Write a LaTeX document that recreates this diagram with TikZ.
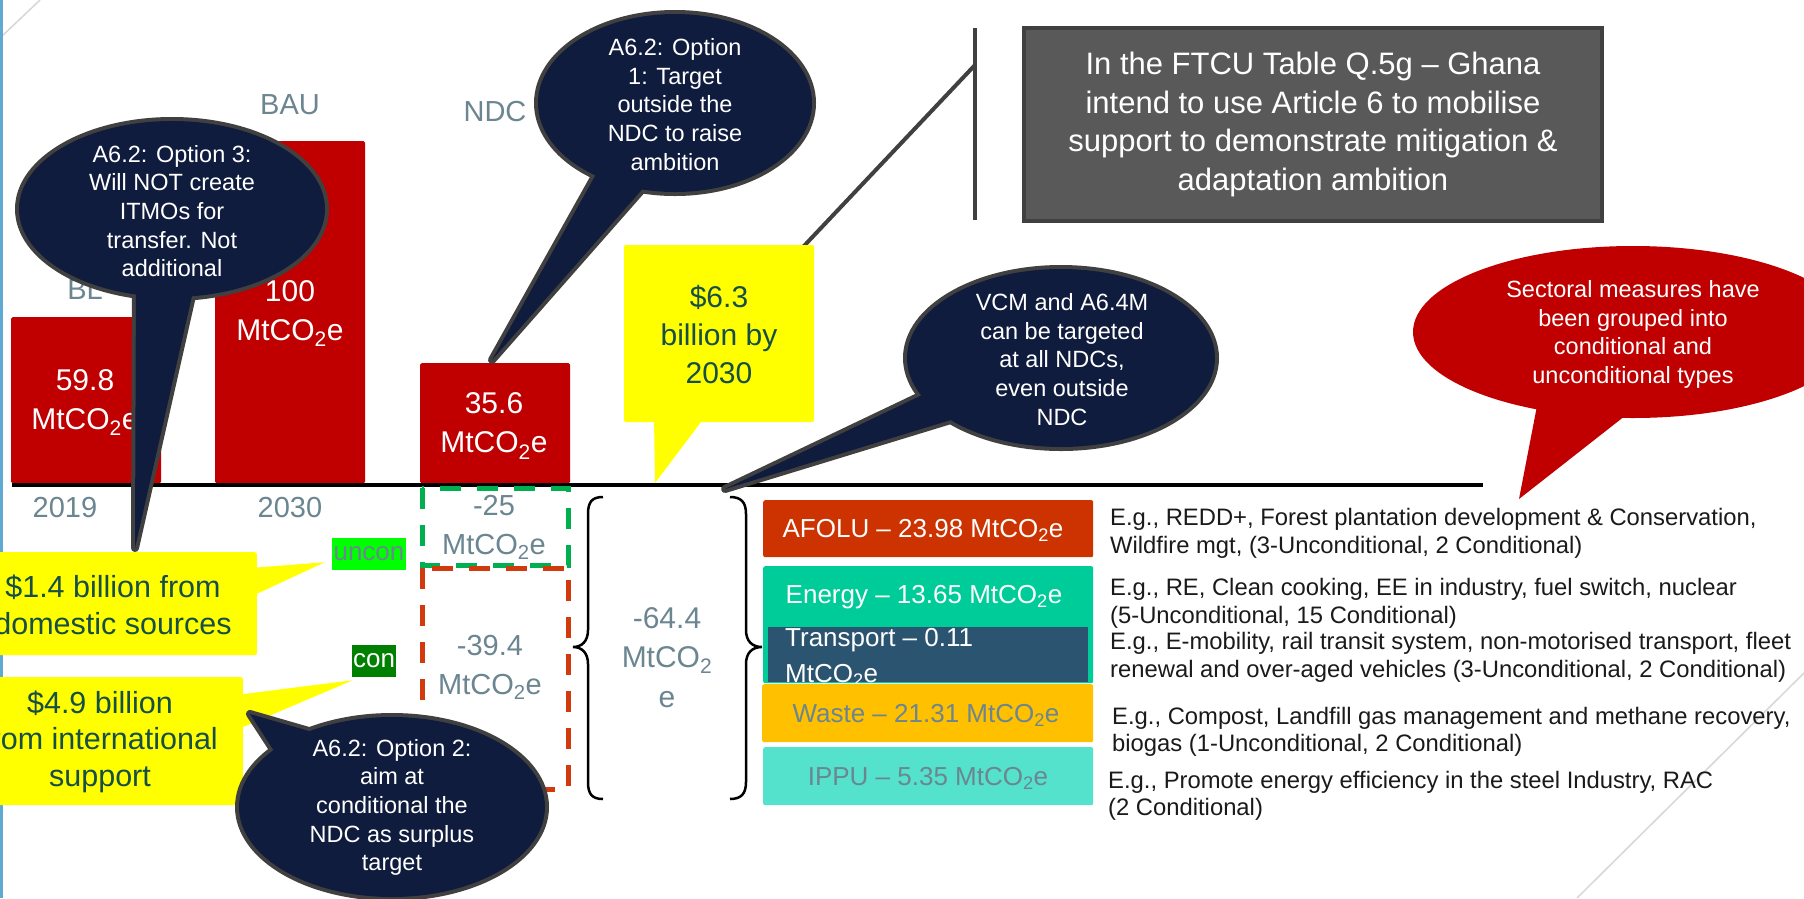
\documentclass[tikz,border=0pt]{standalone}
\usepackage{fontspec}
\setmainfont{Liberation Sans}
\newcommand{\myfs}[2]{\fontsize{#1}{#2}\selectfont}
\definecolor{navy}{RGB}{16,28,61}
\definecolor{bubborder}{RGB}{64,64,64}
\definecolor{barred}{RGB}{192,0,0}
\definecolor{labgray}{RGB}{107,134,145}
\definecolor{ytext}{RGB}{22,78,72}
\definecolor{yel}{RGB}{255,255,0}
\definecolor{dgreen}{RGB}{0,176,80}
\definecolor{dred}{RGB}{208,58,12}
\definecolor{afolu}{RGB}{204,51,0}
\definecolor{energy}{RGB}{0,204,153}
\definecolor{transp}{RGB}{43,84,112}
\definecolor{waste}{RGB}{255,192,0}
\definecolor{ippu}{RGB}{85,226,205}
\definecolor{greybox}{RGB}{89,89,89}
\definecolor{desctext}{RGB}{26,26,26}
\definecolor{lightline}{RGB}{215,215,215}
\definecolor{edgeblue}{RGB}{95,170,210}
\definecolor{brightgreen}{RGB}{0,255,0}
\definecolor{congreen}{RGB}{0,128,0}
\begin{document}
\begin{tikzpicture}[x=1pt,y=-1pt,
  lbl/.style={text=labgray, font=\myfs{29}{39}, align=center, inner sep=0pt},
  bartxt/.style={text=white, font=\myfs{30}{39}, align=center, inner sep=0pt},
  barbox/.style={fill=barred, rounded corners=1.5pt, anchor=north west, inner sep=0pt, minimum width=150pt},
  bubtxt/.style={text=white, font=\myfs{23.5}{28.6}, align=center, inner sep=0pt},
  bubedge/.style={draw=bubborder, line width=8pt, line join=round},
  sectbox/.style={anchor=north west, rounded corners=2pt, inner sep=0pt, minimum width=330pt},
  secttxt/.style={font=\myfs{26}{34}, inner sep=0pt},
  desc/.style={anchor=west, align=left, text=desctext, font=\myfs{23.8}{27.5}, inner sep=0pt},
  ytxt/.style={text=ytext, font=\myfs{30.5}{36.5}, align=center, inner sep=0pt},
  ybox/.style={fill=yel, rounded corners=2pt, inner sep=0pt},
  accent/.style={draw=bubborder, line width=4pt},
  tag/.style={inner sep=0pt, font=\myfs{26}{30}, minimum height=32pt}
]
\useasboundingbox (0,0) rectangle (1804,898);
\clip (0,0) rectangle (1804,898);
\fill[white] (0,0) rectangle (1804,898);

% slide decorations
\draw[line width=1.5pt, lightline] (0,38) -- (40,0);
\draw[line width=1.5pt, lightline] (1804,673) -- (1577,898);
\fill[edgeblue] (0,0) rectangle (2.5,898);

% category labels
\node[lbl] (lBL) at (85,290) {BL};
\node[lbl] (lBAU) at (290,105) {BAU};
\node[lbl] (lNDC) at (495,112) {NDC};
\node[lbl] (l2019) at (65,508) {2019};
\node[lbl] (l2030) at (290,508) {2030};

% bars
\node[barbox, minimum height=166pt] (bar1) at (11,317) {};
\node[barbox, minimum height=342pt] (bar2) at (215,141) {};
\node[barbox, minimum height=120pt] (bar3) at (420,363) {};
\node[bartxt] (v1) at (85,402.5) {59.8\\MtCO\textsubscript{2}e};
\node[bartxt] (v2) at (290,313.5) {100\\MtCO\textsubscript{2}e};
\node[bartxt] (v3) at (494,426) {35.6\\MtCO\textsubscript{2}e};

% axis
\coordinate (axL) at (12,485);
\coordinate (axR) at (1483,485);
\draw[line width=4pt] (axL) -- (axR);

% dashed boxes
\draw[dgreen, line width=5pt, dash pattern=on 21pt off 16pt] (422,488) rectangle (568,565);
\draw[dred, line width=5pt, dash pattern=on 21pt off 16pt] (422,568) rectangle (568,789);
\node[lbl] (m25) at (494,527.5) {-25\\MtCO\textsubscript{2}e};
\node[lbl] (m39) at (490,667.5) {-39.4\\MtCO\textsubscript{2}e};

% braces
\draw[line width=2.5pt] (603,497) .. controls (592,497) and (588,502) .. (588,514) -- (588,630) .. controls (588,641) and (582,647) .. (573,647) .. controls (582,647) and (588,653) .. (588,664) -- (588,782) .. controls (588,794) and (592,799) .. (603,799);
\draw[line width=2.5pt] (730,497) .. controls (741,497) and (746,502) .. (746,514) -- (746,630) .. controls (746,641) and (752,647) .. (762,647) .. controls (752,647) and (746,653) .. (746,664) -- (746,782) .. controls (746,794) and (741,799) .. (730,799);
\node[lbl, font=\myfs{30}{39.5}] (m64) at (667,657.5) {-64.4\\MtCO\textsubscript{2}\\e};

% sector boxes
\node[sectbox, fill=afolu, minimum height=57pt] (afolu) at (763,500) {};
\node[secttxt, text=white] (afoluT) at (923,530) {AFOLU -- 23.98 MtCO\textsubscript{2}e};
\node[sectbox, fill=energy, minimum height=117pt] (energy) at (763,566) {};
\node[secttxt, text=white] (energyT) at (924,597) {Energy -- 13.65 MtCO\textsubscript{2}e};
\node[sectbox, fill=transp, rounded corners=0pt, minimum width=320pt, minimum height=55pt] (trans) at (768,627) {};
\begin{scope}
\clip (768,627) rectangle (1088,682);
\node[secttxt, text=white, anchor=west] (transT1) at (785,640) {Transport -- 0.11};
\node[secttxt, text=white, anchor=west] (transT2) at (785,675) {MtCO\textsubscript{2}e};
\end{scope}
\node[sectbox, fill=waste, minimum width=331pt, minimum height=58pt] (waste) at (762,684) {};
\node[secttxt, text=labgray] (wasteT) at (926,715) {Waste -- 21.31 MtCO\textsubscript{2}e};
\node[sectbox, fill=ippu, minimum height=58pt] (ippu) at (763,747) {};
\node[secttxt, text=labgray] (ippuT) at (928,778) {IPPU -- 5.35 MtCO\textsubscript{2}e};

% descriptions
\node[desc] (dA) at (1110,533.5) {E.g., REDD+, Forest plantation development \& Conservation,\\Wildfire mgt, (3-Unconditional, 2 Conditional)};
\node[desc] (dE) at (1110,603.5) {E.g., RE, Clean cooking, EE in industry, fuel switch, nuclear\\(5-Unconditional, 15 Conditional)};
\node[desc] (dT) at (1110,657.5) {E.g., E-mobility, rail transit system, non-motorised transport, fleet\\renewal and over-aged vehicles (3-Unconditional, 2 Conditional)};
\node[desc] (dW) at (1112,732) {E.g., Compost, Landfill gas management and methane recovery,\\biogas (1-Unconditional, 2 Conditional)};
\node[desc] (dI) at (1108,796) {E.g., Promote energy efficiency in the steel Industry, RAC\\(2 Conditional)};

% grey box with accent line callout
\node[fill=greybox, draw=bubborder, line width=4pt, minimum width=578pt, minimum height=193pt, inner sep=0pt, text=white, font=\myfs{31}{38.5}, align=center] (gbox) at (1313,124.5) {In the FTCU Table Q.5g -- Ghana\\intend to use Article 6 to mobilise\\support to demonstrate mitigation \&\\adaptation ambition};
\coordinate (acc1) at (975,28);
\coordinate (acc2) at (975,220);
\coordinate (accm) at (975,65);
\coordinate (y63ne) at (803,247);
\draw[accent] (acc1) -- (acc2);
\draw[accent] (y63ne) -- (accm);
\node[ybox, minimum width=190pt, minimum height=177pt] (y63) at (719,333.5) {};
\node[ytxt, font=\myfs{30}{38}] (y63T) at (719,335) {\$6.3\\billion by\\2030};
\coordinate (t63) at (655,483);
\fill[yel] (654,418) -- (t63) -- (704,418) -- cycle;

% Option 1 bubble
\coordinate (c1) at (675,103);
\coordinate (tip1) at (492,360);
\draw[bubedge] (c1) ellipse [x radius=137pt, y radius=89pt];
\draw[bubedge] (604,160) -- (tip1) -- (668,160) -- cycle;
\fill[navy] (c1) ellipse [x radius=137pt, y radius=89pt];
\fill[navy] (604,160) -- (tip1) -- (668,160) -- cycle;
\node[bubtxt] (b1) at (675,104.5) {A6.2: Option\\1: Target\\outside the\\NDC to raise\\ambition};

% VCM bubble
\coordinate (cV) at (1061,358);
\coordinate (tipV) at (725,489);
\draw[bubedge] (cV) ellipse [x radius=154pt, y radius=89pt];
\draw[bubedge] (960,377) -- (tipV) -- (990,408) -- cycle;
\fill[navy] (cV) ellipse [x radius=154pt, y radius=89pt];
\fill[navy] (960,377) -- (tipV) -- (990,408) -- cycle;
\node[bubtxt] (bV) at (1062,359.5) {VCM and A6.4M\\can be targeted\\at all NDCs,\\even outside\\NDC};

% red bubble
\coordinate (cR) at (1633,332);
\coordinate (tipR) at (1519,499);
\fill[barred] (cR) ellipse [x radius=220pt, y radius=86pt];
\fill[barred] (1542,380) -- (tipR) -- (1658,390) -- cycle;
\node[bubtxt] (bR) at (1633,334.5) {Sectoral measures have\\been grouped into\\conditional and\\unconditional types};

% tags
\node[tag, fill=brightgreen, text=labgray, minimum width=74pt] (uncon) at (369,554) {uncon};
\node[tag, fill=congreen, text=white, minimum width=44pt] (con) at (374,661) {con};

% yellow callouts
\coordinate (tipU) at ([xshift=-7pt,yshift=8pt]uncon.south west);
\coordinate (tipC) at ([xshift=1pt,yshift=-3pt]con.south west);
\node[ybox, anchor=north east, minimum width=300pt, minimum height=103pt] (y14) at (257,552) {};
\fill[yel] (250,568) -- (tipU) -- (250,597) -- cycle;
\node[ytxt] (y14T) at (113,605) {\$1.4 billion from\\domestic sources};
\node[ybox, anchor=north east, minimum width=300pt, minimum height=128pt] (y49) at (243,677) {};
\fill[yel] (236,695) -- (tipC) -- (236,730) -- cycle;
\node[ytxt] (y49T) at (100,741.5) {\$4.9 billion\\from international\\support};

% Option 3 bubble
\coordinate (c3) at (172,209);
\coordinate (tip3) at (135,548);
\draw[bubedge] (c3) ellipse [x radius=153pt, y radius=88pt];
\draw[bubedge] (136,265) -- (tip3) -- (199,265) -- cycle;
\fill[navy] (c3) ellipse [x radius=153pt, y radius=88pt];
\fill[navy] (136,265) -- (tip3) -- (199,265) -- cycle;
\node[bubtxt] (b3) at (172,211) {A6.2: Option 3:\\Will NOT create\\ITMOs for\\transfer. Not\\additional};

% Option 2 bubble
\coordinate (c2) at (392,807);
\coordinate (tip2) at (250,714);
\draw[bubedge] (c2) ellipse [x radius=153pt, y radius=90pt];
\draw[bubedge] (293,780) -- (tip2) -- (340,740) -- cycle;
\fill[navy] (c2) ellipse [x radius=153pt, y radius=90pt];
\fill[navy] (293,780) -- (tip2) -- (340,740) -- cycle;
\node[bubtxt] (b2) at (392,807.5) {A6.2: Option 2:\\aim at\\conditional the\\NDC as surplus\\target};
\end{tikzpicture}
\end{document}
